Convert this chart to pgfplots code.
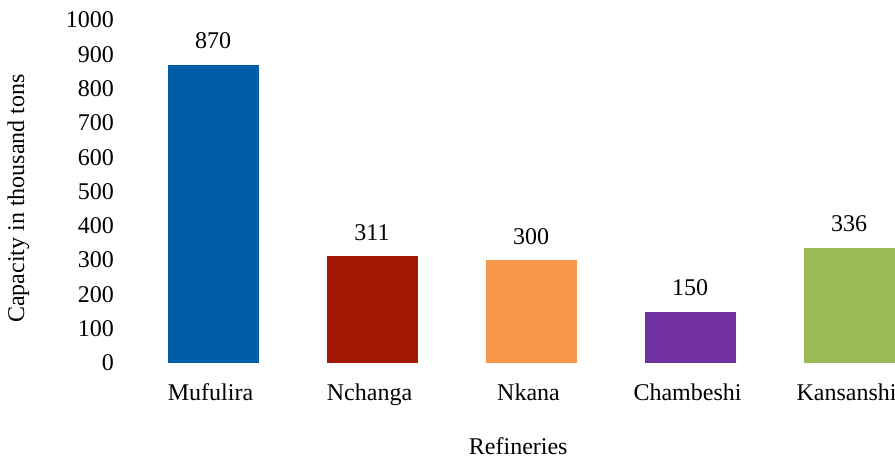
\documentclass[border=0pt]{standalone}
\usepackage{pgfplots}
\pgfplotsset{compat=1.18}
\usepackage{fontspec}
\setmainfont{Liberation Serif}

\definecolor{cMuf}{RGB}{0,93,168}
\definecolor{cNch}{RGB}{165,24,4}
\definecolor{cNka}{RGB}{246,151,74}
\definecolor{cCha}{RGB}{112,48,160}
\definecolor{cKan}{RGB}{155,187,89}

\newcommand{\chartfont}{\fontsize{24}{28}\selectfont}

\begin{document}
\begin{tikzpicture}
\begin{axis}[
  name=ax,
  at={(133.5pt,95pt)}, anchor=south west,
  scale only axis,
  width=761.5pt, height=343pt,
  xmin=-0.5, xmax=4.289,
  ymin=0, ymax=1000,
  ybar, bar width=91pt, bar shift=0pt,
  axis line style={draw=none},
  tick style={draw=none},
  xtick={0,1,2,3,4},
  xticklabels={Mufulira,Nchanga,Nkana,Chambeshi,Kansanshi},
  ytick={0,100,...,1000},
  yticklabel style={/pgf/number format/assume math mode=true, /pgf/number format/1000 sep={}},
  xticklabel style={/pgf/number format/assume math mode=true},
  ticklabel style={font=\chartfont},
  yticklabel style={xshift=-16pt},
  xticklabel style={yshift=-13pt, xshift=-2.5pt},
  xlabel={Refineries}, ylabel={Capacity in thousand tons},
  label style={font=\chartfont},
  xlabel style={at={(rel axis cs:0.5,0)}, anchor=center, yshift=-83pt, xshift=4pt},
  ylabel style={at={(rel axis cs:0,0.5)}, anchor=center, yshift=115pt, xshift=-7pt},
  nodes near coords,
  every node near coord/.append style={font=\chartfont, yshift=12pt, /pgf/number format/assume math mode=true},
  clip=false,
]
\addplot[fill=cMuf, draw=none] coordinates {(0,870)};
\addplot[fill=cNch, draw=none] coordinates {(1,311)};
\addplot[fill=cNka, draw=none] coordinates {(2,300)};
\addplot[fill=cCha, draw=none] coordinates {(3,150)};
\addplot[fill=cKan, draw=none] coordinates {(4,336)};
\end{axis}
\pgfresetboundingbox
\path (0,0) rectangle (895pt,458pt);
\end{tikzpicture}
\end{document}
